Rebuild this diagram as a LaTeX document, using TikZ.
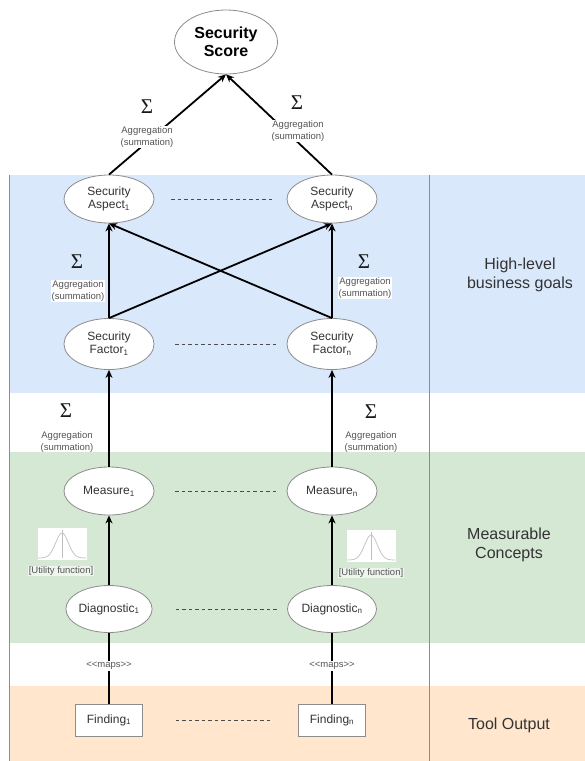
\documentclass[tikz,border=0pt]{standalone}
\usepackage{fontspec}
\setmainfont{Liberation Sans}
\newfontfamily\sigmafont{Liberation Serif}
\usetikzlibrary{shapes.geometric,arrows.meta}
\definecolor{goalblue}{HTML}{DAE8FC}
\definecolor{conceptgreen}{HTML}{D5E8D4}
\definecolor{toolorange}{HTML}{FFE6CC}
\definecolor{bordergray}{HTML}{8C8C8C}
\definecolor{labelgray}{HTML}{555555}
\tikzset{
  concept/.style={ellipse,draw=bordergray,fill=white,line width=0.8pt,
    minimum width=90pt,minimum height=48pt,inner sep=0pt,align=center,
    text=black!80,font=\fontsize{12}{13}\selectfont},
  finding/.style={rectangle,draw=bordergray,fill=white,line width=0.8pt,
    minimum width=67pt,minimum height=32pt,inner sep=0pt,
    text=black!80,font=\fontsize{12}{13}\selectfont},
  agg/.style={align=center,inner sep=1pt,text=labelgray,
    font=\fontsize{9.5}{11.5}\selectfont},
  aggbox/.style={agg,fill=white},
  sigma/.style={inner sep=0pt,text=black!90,font=\sigmafont\fontsize{21}{21}\selectfont},
  layer/.style={align=center,text=black!80,font=\fontsize{16}{19}\selectfont},
  flow/.style={-{Stealth[length=8pt,width=7pt]},line width=1.8pt},
  link/.style={line width=1.8pt},
  dots/.style={dash pattern=on 3.5pt off 3pt,line width=1pt,draw=black!70},
  bellbox/.style={fill=white,minimum width=49pt,minimum height=32pt,inner sep=0pt}
}
\begin{document}
\begin{tikzpicture}[x=1pt,y=-1pt]
\newcommand{\xfirst}{109}
\newcommand{\xlast}{332}
\newcommand{\xedge}{9}
\newcommand{\xsplit}{429}

\useasboundingbox (0,0) rectangle (585,761);
\fill[goalblue] (\xedge,175) rectangle (585,393);
\fill[conceptgreen] (\xedge,452) rectangle (585,643);
\fill[toolorange] (\xedge,686) rectangle (585,761);
\draw[bordergray,line width=1pt] (\xedge,175) -- (\xedge,761);
\draw[bordergray,line width=1pt] (\xsplit,175) -- (\xsplit,761);

\node[concept,minimum width=103pt,minimum height=64pt,text=black,
  font=\bfseries\fontsize{16}{18}\selectfont] (score) at (226,42) {Security\\Score};
\node[concept] (aspect1) at (\xfirst,199) {Security\\Aspect\textsubscript{1}};
\node[concept] (aspectn) at (\xlast,199) {Security\\Aspect\textsubscript{n}};
\node[concept,minimum height=51pt] (factor1) at (\xfirst,344) {Security\\Factor\textsubscript{1}};
\node[concept,minimum height=51pt] (factorn) at (\xlast,344) {Security\\Factor\textsubscript{n}};
\node[concept] (measure1) at (\xfirst,491) {Measure\textsubscript{1}};
\node[concept] (measuren) at (\xlast,491) {Measure\textsubscript{n}};
\node[concept,minimum width=86pt,minimum height=47pt] (diag1) at (\xfirst,609) {Diagnostic\textsubscript{1}};
\node[concept,minimum width=89pt,minimum height=47pt] (diagn) at (\xlast,609) {Diagnostic\textsubscript{n}};
\node[finding] (finding1) at (\xfirst,720) {Finding\textsubscript{1}};
\node[finding] (findingn) at (\xlast,720) {Finding\textsubscript{n}};

\draw[flow] (aspect1.north) -- (score.south);
\draw[flow] (aspectn.north) -- (score.south);
\draw[flow] (factor1.north) -- (aspect1.south);
\draw[flow] (factor1.north) -- (aspectn.south);
\draw[flow] (factorn.north) -- (aspect1.south);
\draw[flow] (factorn.north) -- (aspectn.south);
\draw[flow] (measure1.north) -- (factor1.south);
\draw[flow] (measuren.north) -- (factorn.south);
\draw[flow] (diag1.north) -- (measure1.south);
\draw[flow] (diagn.north) -- (measuren.south);
\draw[link] (finding1.north) -- (diag1.south);
\draw[link] (findingn.north) -- (diagn.south);

\draw[dots,shorten <=17pt,shorten >=14pt] (aspect1) -- (aspectn);
\draw[dots,shorten <=21pt,shorten >=10pt] (factor1) -- (factorn);
\draw[dots,shorten <=21pt,shorten >=10pt] (measure1) -- (measuren);
\draw[dots,shorten <=23pt,shorten >=10pt] (diag1) -- (diagn);
\draw[dots,shorten <=33pt,shorten >=27pt] (finding1) -- (findingn);

\node[sigma] (sumscore1) at (147,107) {Σ};
\node[aggbox] (aggscore1) at (147,137) {Aggregation\\(summation)};
\node[sigma] (sumscoren) at (297,103) {Σ};
\node[aggbox] (aggscoren) at (298,131) {Aggregation\\(summation)};
\node[sigma] (sumaspect1) at (77,262) {Σ};
\node[aggbox] (aggaspect1) at (78,291) {Aggregation\\(summation)};
\node[sigma] (sumaspectn) at (364,262) {Σ};
\node[aggbox] (aggaspectn) at (365,288) {Aggregation\\(summation)};
\node[sigma] (sumfactor1) at (66,411) {Σ};
\node[agg] (aggfactor1) at (67,442) {Aggregation\\(summation)};
\node[sigma] (sumfactorn) at (371,412) {Σ};
\node[agg] (aggfactorn) at (371,442) {Aggregation\\(summation)};

\node[bellbox] (bell1) at (62,544) {};
\node[bellbox] (belln) at (371,546) {};
\draw[black!25,line width=0.7pt] (bell1.north) ++(0,2) -- ++(0,28);
\draw[black!25,line width=0.7pt,smooth,samples=41,domain=-24:24]
  plot ({62+\x},{558-25*exp(-(\x/9)^2)});
\draw[black!25,line width=0.7pt] (belln.north) ++(0,2) -- ++(0,28);
\draw[black!25,line width=0.7pt,smooth,samples=41,domain=-24:24]
  plot ({371+\x},{560-25*exp(-(\x/9)^2)});
\node[aggbox,fill opacity=0.6,text opacity=1] (utility1) at (61,571) {[Utility function]};
\node[aggbox,fill opacity=0.6,text opacity=1] (utilityn) at (371,573) {[Utility function]};

\node[aggbox] (maps1) at (\xfirst,666) {<{}<maps>{}>};
\node[aggbox] (mapsn) at (\xlast,666) {<{}<maps>{}>};

\node[layer] (goals) at (520,275) {High-level\\business goals};
\node[layer] (concepts) at (509,545) {Measurable\\Concepts};
\node[layer] (tooloutput) at (509,725) {Tool Output};
\end{tikzpicture}
\end{document}
